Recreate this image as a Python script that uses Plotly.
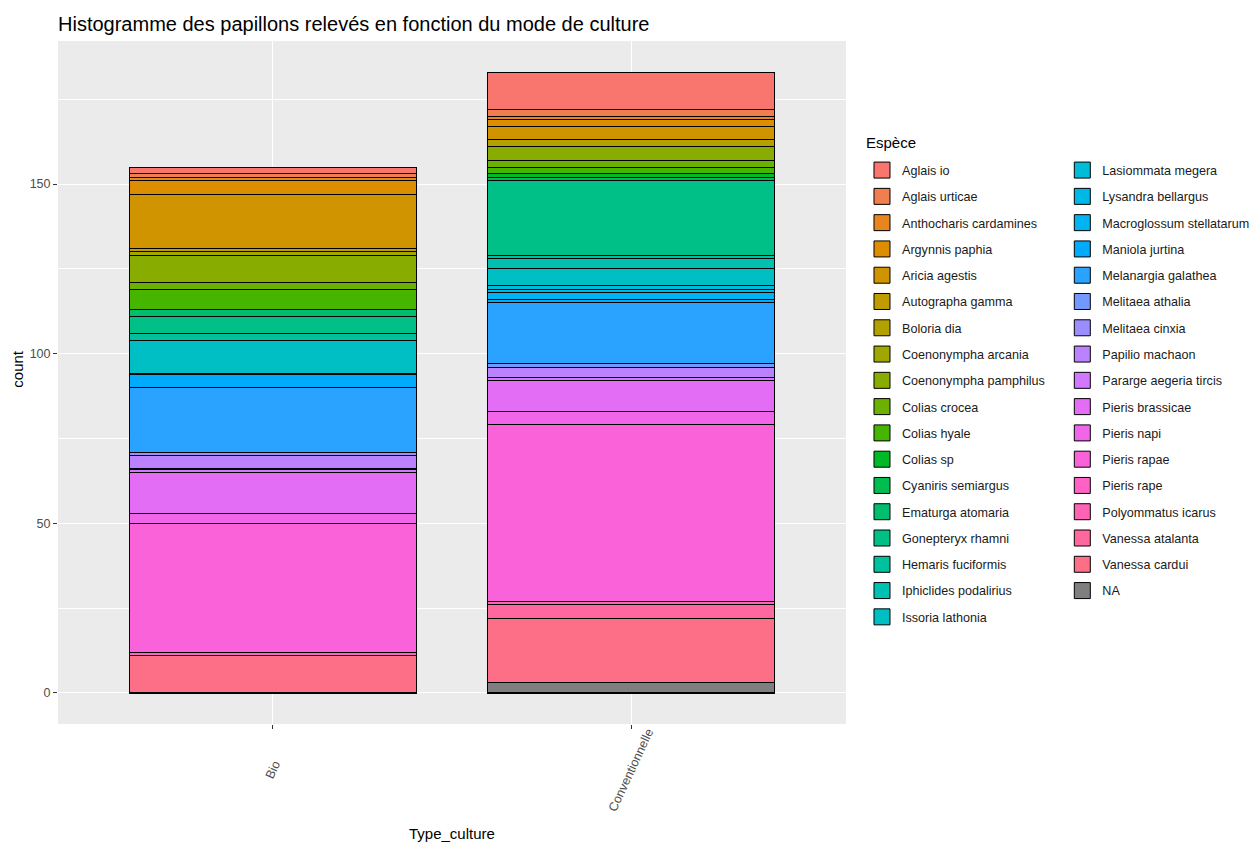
import math
import plotly.graph_objects as go

# ---------------- data ----------------
categories = ["Bio", "Conventionnelle"]

species = [
    "Aglais io", "Aglais urticae", "Anthocharis cardamines", "Argynnis paphia",
    "Aricia agestis", "Autographa gamma", "Boloria dia", "Coenonympha arcania",
    "Coenonympha pamphilus", "Colias crocea", "Colias hyale", "Colias sp",
    "Cyaniris semiargus", "Ematurga atomaria", "Gonepteryx rhamni",
    "Hemaris fuciformis", "Iphiclides podalirius", "Issoria lathonia",
    "Lasiommata megera", "Lysandra bellargus", "Macroglossum stellatarum",
    "Maniola jurtina", "Melanargia galathea", "Melitaea athalia",
    "Melitaea cinxia", "Papilio machaon", "Pararge aegeria tircis",
    "Pieris brassicae", "Pieris napi", "Pieris rapae", "Pieris rape",
    "Polyommatus icarus", "Vanessa atalanta", "Vanessa cardui", "NA",
]

bio_counts = [2, 1, 1, 4, 16, 1, 0, 1, 8, 2, 6, 0, 0, 2, 5, 2, 0, 10,
              0, 0, 0, 4, 19, 0, 1, 4, 1, 12, 3, 38, 1, 0, 0, 11, 0]
conv_counts = [11, 2, 1, 2, 4, 0, 2, 0, 4, 2, 2, 1, 1, 0, 22, 1, 3, 5,
               1, 1, 2, 1, 18, 1, 0, 3, 1, 9, 4, 52, 0, 1, 4, 19, 3]

title_text = "Histogramme des papillons relevés en fonction du mode de culture"
x_title = "Type_culture"
y_title = "count"
legend_title = "Espèce"
y_ticks = [0, 50, 100, 150]


# ---------------- ggplot2 default hue palette ----------------
def hcl_hex(h, c=100.0, l=65.0):
    Xn, Yn, Zn = 95.047, 100.000, 108.883
    hr = math.radians(h)
    U = c * math.cos(hr)
    V = c * math.sin(hr)
    Y = Yn * ((l + 16) / 116) ** 3 if l > 7.999592 else Yn * l / 903.3
    t = Xn + Yn + Zn
    x = Xn / t
    y = Yn / t
    uN = 2 * x / (6 * y - x + 1.5)
    vN = 4.5 * y / (6 * y - x + 1.5)
    u = U / (13 * l) + uN
    v = V / (13 * l) + vN
    X = 9.0 * Y * u / (4 * v)
    Z = -X / 3 - 5 * Y + 3 * Y / v

    def g(val):
        return 1.055 * val ** (1 / 2.4) - 0.055 if val > 0.00304 else 12.92 * val

    R = g((3.240479 * X - 1.537150 * Y - 0.498535 * Z) / Yn)
    G = g((-0.969256 * X + 1.875992 * Y + 0.041556 * Z) / Yn)
    B = g((0.055648 * X - 0.204043 * Y + 1.057311 * Z) / Yn)
    comp = [max(0, min(255, round(255 * max(0.0, min(1.0, q))))) for q in (R, G, B)]
    return "#%02X%02X%02X" % tuple(comp)


n = len(species) - 1
h0, h1 = 15.0, 375.0 - 360.0 / n
hues = [(h0 + i * (h1 - h0) / (n - 1)) % 360 for i in range(n)]
colors = [hcl_hex(h) for h in hues] + ["#7F7F7F"]

# ---------------- figure ----------------
fig = go.Figure()
n_left = 18
# add in reverse so the first level is stacked on top (as ggplot does)
for i in reversed(range(len(species))):
    yvals = [bio_counts[i] or None, conv_counts[i] or None]
    fig.add_trace(go.Bar(
        x=categories, y=yvals, name=species[i],
        marker=dict(color=colors[i], line=dict(color="black", width=1.1)),
        showlegend=False, legendgroup=species[i],
    ))

# legend keys (larger square swatches, like ggplot's keys)
for i in range(len(species)):
    fig.add_trace(go.Scatter(
        x=[None], y=[None], mode="markers", name=species[i],
        marker=dict(symbol="square", size=16, color=colors[i],
                    line=dict(color="black", width=1)),
        legend="legend" if i < n_left else "legend2",
        legendrank=i + 1, legendgroup=species[i], showlegend=True,
    ))

font_family = "Liberation Sans, Arial, sans-serif"

# rotated category labels, centred under each tick (ggplot angle=65, vjust=.5)
annotations = [
    dict(text=c, x=c, xref="x", y=-0.0673, yref="paper", showarrow=False,
         textangle=-65, xanchor="center", yanchor="middle",
         font=dict(size=12.5, color="#4D4D4D"))
    for c in categories
]
annotations.append(dict(text=x_title, x=0.5, xref="paper", y=-0.1610, yref="paper",
                        showarrow=False, xanchor="center", yanchor="middle",
                        font=dict(size=15, color="black")))
annotations.append(dict(text=y_title, x=-0.051, xref="paper", y=0.52, yref="paper",
                        showarrow=False, xanchor="center", yanchor="middle",
                        textangle=-90, font=dict(size=15, color="black")))
annotations.append(dict(text=legend_title, x=1.0229, xref="paper", y=0.8507, yref="paper",
                        showarrow=False, xanchor="left", yanchor="middle",
                        font=dict(size=15, color="black")))

legend_common = dict(
    yanchor="top", y=0.8325, xanchor="left",
    font=dict(size=12.6, color="#1A1A1A"), tracegroupgap=6.9,
    bgcolor="rgba(0,0,0,0)", itemsizing="trace",
)

W, H = 1242, 845
fig.update_layout(
    barmode="stack",
    bargap=0.2,
    width=W, height=H,
    margin=dict(l=50, r=404, t=33, b=129, autoexpand=False),
    paper_bgcolor="white",
    plot_bgcolor="#EBEBEB",
    font=dict(family=font_family, color="black"),
    title=dict(text=title_text, x=50 / W, xanchor="left",
               xref="container", y=1 - 16 / H, yanchor="middle",
               yref="container", font=dict(size=20, color="black")),
    annotations=annotations,
    legend=dict(x=1.0203, **legend_common),
    legend2=dict(x=1.2745, **legend_common),
    xaxis=dict(
        type="category", categoryorder="array", categoryarray=categories,
        range=[-0.6, 1.6], automargin=False,
        showgrid=True, gridcolor="white", gridwidth=1.2,
        ticks="outside", ticklen=4, tickcolor="#333333", tickwidth=1,
        showticklabels=False,
        zeroline=False, showline=False,
    ),
    yaxis=dict(
        range=[-9.15, 192.15], tickvals=y_ticks, automargin=False,
        showgrid=True, gridcolor="white", gridwidth=1.2,
        minor=dict(dtick=25, tick0=0, showgrid=True, gridcolor="white", gridwidth=0.6),
        ticks="outside", ticklen=4, tickcolor="#333333", tickwidth=1,
        tickfont=dict(size=12.5, color="#4D4D4D"),
        zeroline=False, showline=False,
    ),
)

fig.write_html("out.html")
